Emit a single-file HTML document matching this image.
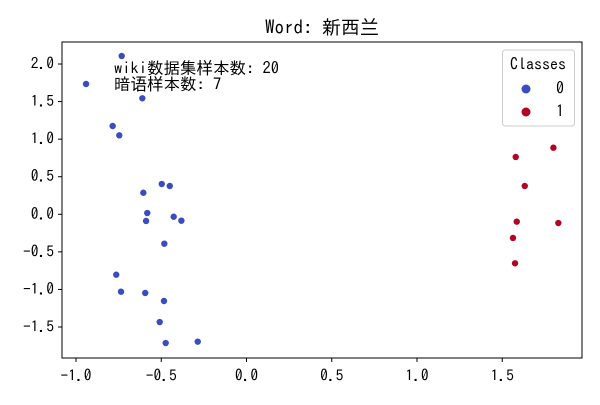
<!DOCTYPE html>
<html><head><meta charset="utf-8"><style>
body{margin:0;background:#fff;}
svg text{font-family:"WenQuanYi Zen Hei Mono","IPAGothic","WenQuanYi Zen Hei","Noto Sans CJK SC",monospace;fill:#000;}
</style></head><body>
<svg id="chart" width="600" height="400" xmlns="http://www.w3.org/2000/svg">
<rect x="0" y="0" width="600" height="400" fill="#fff"/>
<text x="322" y="34" font-size="19" text-anchor="middle">Word: 新西兰</text>
<g id="marks"></g>
<g id="axes"></g>
<rect x="62" y="42" width="520" height="316" fill="none" stroke="#000" stroke-width="1"/>
<text x="114" y="74" font-size="16.5">wiki数据集样本数: 20</text>
<text x="114" y="90" font-size="16.5">暗语样本数: 7</text>
<g>
<rect x="502.5" y="50" width="72" height="76" rx="3" fill="#fff" fill-opacity="0.8" stroke="#ccc"/>
<text x="538" y="70" font-size="16" text-anchor="middle">Classes</text>
<circle cx="526" cy="89" r="4.5" fill="#3b4cc0"/>
<text x="560" y="94" font-size="16" text-anchor="middle">0</text>
<circle cx="526" cy="112" r="4.5" fill="#b40426"/>
<text x="560" y="117" font-size="16" text-anchor="middle">1</text>
</g>
</svg>
<script>
const class0X=[-0.732,-0.941,-0.611,-0.785,-0.746,-0.497,-0.450,-0.605,-0.582,-0.427,-0.589,-0.382,-0.482,-0.764,-0.736,-0.594,-0.484,-0.509,-0.474,-0.286];
const class0Y=[2.107,1.734,1.544,1.175,1.051,0.403,0.377,0.287,0.017,-0.032,-0.089,-0.085,-0.391,-0.804,-1.030,-1.047,-1.154,-1.434,-1.713,-1.695];
const class1X=[1.800,1.579,1.632,1.585,1.829,1.563,1.575];
const class1Y=[0.886,0.763,0.377,-0.098,-0.116,-0.315,-0.652];
const xTicks=[-1.0,-0.5,0.0,0.5,1.0,1.5];
const yTicks=[-1.5,-1.0,-0.5,0.0,0.5,1.0,1.5,2.0];
const NS="http://www.w3.org/2000/svg";
function sx(v){return 246.5+v*170.5;}
function sy(v){return 214.3-v*75.14;}
const marks=document.getElementById('marks');
const axes=document.getElementById('axes');
function pt(x,y,c,name){
 const e=document.createElementNS(NS,'circle');
 e.setAttribute('cx',sx(x));e.setAttribute('cy',sy(y));e.setAttribute('r',3.2);e.setAttribute('fill',c);
 
 
 marks.appendChild(e);
}
class0X.forEach((x,i)=>pt(x,class0Y[i],'#3b4cc0','point-class0'));
class1X.forEach((x,i)=>pt(x,class1Y[i],'#b40426','point-class1'));
function fmt(v){return (v<0?'\u2212':'')+Math.abs(v).toFixed(1);}
xTicks.forEach(v=>{
 const l=document.createElementNS(NS,'line');
 l.setAttribute('x1',sx(v));l.setAttribute('x2',sx(v));l.setAttribute('y1',358);l.setAttribute('y2',362);l.setAttribute('stroke','#000');
 
 
 axes.appendChild(l);
 const t=document.createElementNS(NS,'text');
 t.setAttribute('x',sx(v));t.setAttribute('y',381);t.setAttribute('font-size','15.5');t.setAttribute('text-anchor','middle');
 t.textContent=fmt(v);
 
 
 axes.appendChild(t);
});
yTicks.forEach(v=>{
 const l=document.createElementNS(NS,'line');
 l.setAttribute('x1',58);l.setAttribute('x2',62);l.setAttribute('y1',sy(v));l.setAttribute('y2',sy(v));l.setAttribute('stroke','#000');
 
 
 axes.appendChild(l);
 const t=document.createElementNS(NS,'text');
 t.setAttribute('x',54);t.setAttribute('y',sy(v)+5);t.setAttribute('font-size','15.5');t.setAttribute('text-anchor','end');
 t.textContent=fmt(v);
 
 
 axes.appendChild(t);
});
</script>
</body></html>
